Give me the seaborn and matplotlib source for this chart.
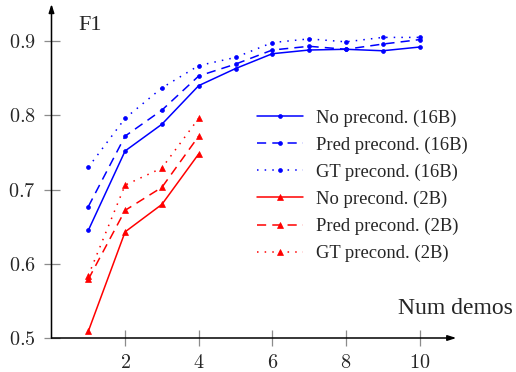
import numpy as np
import pandas as pd
import matplotlib
matplotlib.use("Agg")
import matplotlib.pyplot as plt
import seaborn as sns

# values
demos_16b = [1, 2, 3, 4, 5, 6, 7, 8, 9, 10]
no_16b = [0.645, 0.752, 0.788, 0.840, 0.863, 0.883, 0.888, 0.889, 0.887, 0.892]
pred_16b = [0.677, 0.772, 0.807, 0.853, 0.869, 0.888, 0.893, 0.889, 0.896, 0.902]
gt_16b = [0.730, 0.796, 0.837, 0.867, 0.878, 0.898, 0.903, 0.899, 0.905, 0.905]

demos_2b = [1, 2, 3, 4]
no_2b = [0.509, 0.643, 0.680, 0.748]
pred_2b = [0.579, 0.672, 0.703, 0.772]
gt_2b = [0.584, 0.706, 0.729, 0.796]

labels = ["No precond. (16B)", "Pred precond. (16B)", "GT precond. (16B)",
          "No precond. (2B)", "Pred precond. (2B)", "GT precond. (2B)"]
xticks = [2, 4, 6, 8, 10]
yticks = [0.5, 0.6, 0.7, 0.8, 0.9]

sns.set_style("white")
plt.rcParams["font.family"] = ["Liberation Serif", "DejaVu Serif"]
plt.rcParams["mathtext.fontset"] = "cm"

series = [
    (demos_16b, no_16b, "blue", "o", "-", 2.8),
    (demos_16b, pred_16b, "blue", "o", (0, (6, 4)), 2.8),
    (demos_16b, gt_16b, "blue", "o", (0, (1, 4)), 2.8),
    (demos_2b, no_2b, "red", "^", "-", 5),
    (demos_2b, pred_2b, "red", "^", (0, (6, 4)), 5),
    (demos_2b, gt_2b, "red", "^", (0, (1, 4)), 5),
]

fig = plt.figure(figsize=(5.16, 3.72), dpi=100)
ax = fig.add_axes([51.5 / 516, 34 / 372, 404.8 / 516, 334 / 372])

for (xs, ys, col, mk, ls, ms), lab in zip(series, labels):
    df = pd.DataFrame({"demos": xs, "f1": ys})
    sns.lineplot(data=df, x="demos", y="f1", ax=ax, color=col, marker=mk,
                 linestyle=ls, markersize=ms, markeredgecolor=col,
                 markeredgewidth=0.5, linewidth=1.1, label=lab)

ax.set_xlim(0, 11)
ax.set_ylim(0.5, 0.95)
ax.set_xticks(xticks)
ax.set_yticks(yticks)
ax.set_xticklabels([f"${t}$" for t in xticks])
ax.set_yticklabels([f"${t}$" for t in yticks])
ax.tick_params(axis="both", direction="inout", length=11, width=0.9,
               color="0.55", labelsize=14.5, pad=6)
ax.tick_params(left=True, bottom=True)
ax.set_xlabel("")
ax.set_ylabel("")

for s in ax.spines.values():
    s.set_visible(False)
# axis lines with arrow heads
ax.annotate("", xy=(1, 0), xytext=(0, 0), xycoords="axes fraction",
            arrowprops=dict(arrowstyle="-|>,head_length=0.5,head_width=0.16",
                            color="black", lw=1.1, shrinkA=0, shrinkB=0))
ax.annotate("", xy=(0, 1), xytext=(0, 0), xycoords="axes fraction",
            arrowprops=dict(arrowstyle="-|>,head_length=0.5,head_width=0.16",
                            color="black", lw=1.1, shrinkA=0, shrinkB=0))

ax.text(0.0655, 0.922, "F1", transform=ax.transAxes, fontsize=16,
        va="baseline", ha="left")
ax.text(0.856, 0.072, "Num demos", transform=ax.transAxes, fontsize=17,
        va="baseline", ha="left")

handles, labs = ax.get_legend_handles_labels()
ax.legend(handles, labs, frameon=False, loc="upper left",
          bbox_to_anchor=(0.507, 0.685), fontsize=13.4, borderpad=0,
          borderaxespad=0, handlelength=2.5, handletextpad=0.7,
          labelspacing=0.53)

fig.savefig("out.png", dpi=100)
